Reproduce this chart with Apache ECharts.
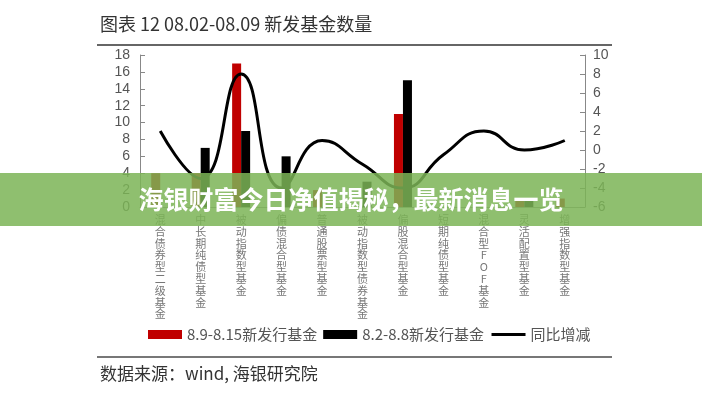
<!DOCTYPE html>
<html>
<head>
<meta charset="utf-8">
<script src="https://cdn.jsdelivr.net/npm/echarts@6/dist/echarts.min.js"></script>
<style>
html,body{margin:0;padding:0;background:#fff;}
#c{width:702px;height:400px;}
</style>
</head>
<body>
<div id="c"></div>
<script>
var categories = ['混合债券型二级基金','中长期纯债型基金','被动指数型基金','偏债混合型基金','普通股票型基金','被动指数型债券基金','偏股混合型基金','短期纯债型基金','混合型FOF基金','灵活配置型基金','增强指数型基金'];
var newFunds0809 = [4, 4, 17, 0, 2, 0, 11, 0, 0, 1, 1];
var newFunds0802 = [0, 7, 9, 6, 0, 3, 15, 0, 0, 1, 0];
var yoyChange = [2, -3, 8, -4, 1, -1.5, -4, -0.5, 2, 0, 1];
var leftTicks = {min: 0, max: 18, interval: 2};
var rightTicks = {min: -6, max: 10, interval: 2};

var CJK = '"Noto Sans CJK SC", "Liberation Sans", sans-serif';
var NUM = '"Liberation Sans", "Noto Sans CJK SC", sans-serif';

var chart = echarts.init(document.getElementById('c'), null, {renderer: 'canvas'});
chart.setOption({
  animation: false,
  backgroundColor: '#fff',
  grid: {left: 140, right: 117, top: 55, bottom: 193, containLabel: false},
  legend: {
    left: 148, top: 327, padding: 0,
    itemWidth: 34, itemHeight: 9, itemGap: 6,
    textStyle: {fontSize: 15, color: '#555', fontFamily: CJK},
    data: [
      {name: '8.9-8.15新发行基金', icon: 'rect'},
      {name: '8.2-8.8新发行基金', icon: 'rect'},
      {name: '同比增减', itemStyle: {opacity: 0}, lineStyle: {width: 3, color: '#000'}}
    ]
  },
  xAxis: {
    type: 'category',
    data: categories,
    axisLine: {show: true, lineStyle: {color: '#999'}},
    axisTick: {show: false},
    axisLabel: {
      interval: 0, margin: 7,
      fontSize: 11, lineHeight: 11.8, color: '#777', fontFamily: CJK,
      verticalAlign: 'top',
      formatter: function (v) { return v.split('').join('\n'); }
    }
  },
  yAxis: [
    {
      type: 'value', min: leftTicks.min, max: leftTicks.max, interval: leftTicks.interval,
      axisLine: {show: true, lineStyle: {color: '#888'}},
      axisTick: {show: true, inside: true, length: 5, lineStyle: {color: '#888'}},
      splitLine: {show: false},
      axisLabel: {fontSize: 14, color: '#555', fontFamily: NUM, margin: 10}
    },
    {
      type: 'value', min: rightTicks.min, max: rightTicks.max, interval: rightTicks.interval,
      position: 'right',
      axisLine: {show: true, lineStyle: {color: '#888'}},
      axisTick: {show: true, inside: true, length: 5, lineStyle: {color: '#888'}},
      splitLine: {show: false},
      axisLabel: {fontSize: 14, color: '#555', fontFamily: NUM, margin: 8}
    }
  ],
  series: [
    {
      name: '8.9-8.15新发行基金', type: 'bar', data: newFunds0809,
      barWidth: 9, barGap: '0%', itemStyle: {color: '#c00000'}, z: 2
    },
    {
      name: '8.2-8.8新发行基金', type: 'bar', data: newFunds0802,
      barWidth: 9, barGap: '0%', itemStyle: {color: '#000000'}, z: 2
    },
    {
      name: '同比增减', type: 'line', yAxisIndex: 1, data: yoyChange,
      smooth: 0.5, symbol: 'none', showSymbol: false, lineStyle: {color: '#000', width: 3},
      itemStyle: {color: '#000'}, z: 3
    }
  ],
  graphic: [
    {type: 'text', left: 100, top: 15, z: 10,
     style: {text: '图表 12 08.02-08.09 新发基金数量', font: '18px ' + CJK, fill: '#333'}},
    {type: 'line', z: 10, shape: {x1: 97, y1: 45, x2: 612, y2: 45},
     style: {stroke: '#666', lineWidth: 2}},
    {type: 'line', z: 10, shape: {x1: 97, y1: 357, x2: 612, y2: 357},
     style: {stroke: '#777', lineWidth: 2}},
    {type: 'text', left: 100, top: 365, z: 10,
     style: {text: '数据来源：wind, 海银研究院', font: '17px ' + CJK, fill: '#333'}},
    {type: 'rect', z: 100, shape: {x: 0, y: 173, width: 702, height: 53},
     style: {fill: 'rgba(123,180,86,0.85)'}},
    {type: 'text', z: 101, x: 351, y: 199,
     style: {text: '海银财富今日净值揭秘，最新消息一览', font: 'bold 25px ' + CJK, fill: '#fff',
             textAlign: 'center', textVerticalAlign: 'middle'}}
  ]
});
</script>
</body>
</html>
